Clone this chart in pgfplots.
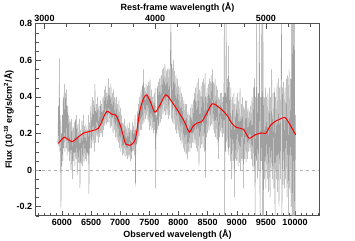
\documentclass[border=0pt]{standalone}
\usepackage{pgfplots}
\pgfplotsset{compat=1.18}
\usepackage{fontspec}
\setmainfont{Liberation Sans}
\definecolor{specgray}{RGB}{160,160,160}
\definecolor{axgray}{RGB}{80,80,80}
\begin{document}
\begin{tikzpicture}
\pgfplotsset{
  common/.style={
    scale only axis, width=283.6pt, height=192pt,
    tick align=inside, major tick length=5pt, minor tick length=3pt,
    every tick/.style={axgray, line width=0.4pt},
    axis line style={axgray, line width=0.6pt},
    /pgf/number format/assume math mode=true,
    scaled x ticks=false,
    tick label style={font=\fontsize{9}{10}\selectfont\bfseries},
    label style={font=\fontsize{9}{10}\selectfont\bfseries},
  }
}
\begin{axis}[common, name=main,
  xmin=5549, xmax=10417, ymin=-0.25, ymax=0.8,
  tick pos=left,
  xtick={6000,6500,...,10000},
  xticklabels={6000,6500,7000,7500,8000,8500,9000,9500,10000},
  minor xtick={5600,5700,...,10400},
  ytick={-0.2,0,0.2,0.4,0.6,0.8},
  yticklabels={-0.2,0,0.2,0.4,0.6,0.8},
  minor ytick={-0.25,-0.15,-0.1,-0.05,0.05,0.1,0.15,0.25,0.3,0.35,0.45,0.5,0.55,0.65,0.7,0.75},
  xlabel={Observed wavelength (Å)},
  ylabel={Flux (10\textsuperscript{-18} erg/s/cm\textsuperscript{2}/Å)},
  xlabel style={yshift=3pt},
  ylabel style={yshift=-4pt},
  clip=true,
]
\addplot[gray!60, dashed, line width=0.4pt] coordinates {(5549,0) (10417,0)};
\addplot[specgray, line width=0.45pt] table[row sep=\\] {
5930 0.14\\ 5940 0.35\\ 5948 0.13\\ 5955 0.61\\ 5962 0.10\\ 5970 0.30\\ 5977 0.05\\ 5983 -0.21\\ 5990 0.20\\ 5998 0.02\\
6006 0.30\\ 6014 0.05\\ 6022 0.40\\ 6030 0.12\\ 6040 0.47\\ 6050 0.10\\ 6060 0.42\\ 6070 0.12\\ 6080 0.44\\ 6090 0.08\\
6100 0.35\\ 6110 0.10\\ 6120 0.30\\ 6131 0.05\\ 6142 0.27\\ 6154 0.00\\ 6166 0.28\\ 6177 -0.05\\ 6189 0.24\\ 6200 0.05\\
6212 0.26\\ 6222 0.02\\ 6232 0.28\\ 6242 0.06\\ 6252 0.30\\ 6262 -0.03\\ 6273 0.25\\ 6285 0.04\\ 6297 0.28\\ 6309 -0.10\\
6320 0.22\\ 6331 0.03\\ 6343 0.27\\ 6355 0.02\\ 6366 0.30\\ 6378 0.04\\ 6390 0.24\\ 6401 0.06\\ 6412 0.25\\ 6423 0.05\\
6433 0.22\\ 6443 0.08\\ 6453 0.30\\ 6463 -0.13\\ 6473 0.26\\ 6483 0.12\\ 6495 0.35\\ 6509 0.12\\ 6520 0.40\\ 6532 0.15\\
6545 0.38\\ 6555 0.10\\ 6566 0.47\\ 6578 0.15\\ 6590 0.36\\ 6602 0.18\\ 6613 0.40\\ 6624 0.15\\ 6636 0.35\\ 6648 0.18\\
6660 0.38\\ 6670 0.20\\ 6681 0.36\\ 6692 0.18\\ 6704 0.40\\ 6716 0.22\\ 6727 0.44\\ 6738 0.24\\ 6750 0.46\\ 6761 0.25\\
6772 0.42\\ 6784 0.26\\ 6795 0.50\\ 6806 0.26\\ 6818 0.45\\ 6829 0.23\\ 6841 0.47\\ 6852 0.24\\ 6864 0.42\\ 6876 0.20\\
6887 0.44\\ 6899 0.22\\ 6910 0.40\\ 6922 0.18\\ 6933 0.40\\ 6945 0.16\\ 6956 0.36\\ 6967 0.15\\ 6978 0.38\\ 6990 0.12\\
7001 0.34\\ 7012 0.10\\ 7024 0.30\\ 7036 0.08\\ 7047 0.26\\ 7059 0.09\\ 7070 0.28\\ 7082 0.07\\ 7094 0.24\\ 7105 0.08\\
7117 0.25\\ 7128 0.06\\ 7139 0.23\\ 7150 0.07\\ 7162 0.26\\ 7173 0.05\\ 7184 0.22\\ 7196 0.06\\ 7208 0.26\\ 7219 0.10\\
7231 0.24\\ 7242 0.08\\ 7254 0.30\\ 7262 -0.09\\ 7270 0.22\\ 7282 0.14\\ 7294 0.32\\ 7303 0.15\\ 7311 0.36\\ 7322 0.18\\
7334 0.40\\ 7345 0.22\\ 7357 0.44\\ 7368 0.22\\ 7380 0.46\\ 7388 0.25\\ 7397 0.55\\ 7408 0.26\\ 7420 0.45\\ 7431 0.28\\
7443 0.47\\ 7454 0.30\\ 7466 0.46\\ 7477 0.26\\ 7489 0.48\\ 7500 0.22\\ 7511 0.50\\ 7522 0.24\\ 7534 0.44\\ 7545 0.22\\
7557 0.40\\ 7568 0.20\\ 7580 0.42\\ 7590 0.22\\ 7600 0.45\\ 7608 -0.10\\ 7617 0.30\\ 7628 0.20\\ 7640 0.46\\ 7648 0.22\\
7654 0.48\\ 7665 0.24\\ 7677 0.50\\ 7688 0.26\\ 7700 0.52\\ 7711 0.28\\ 7722 0.55\\ 7734 0.30\\ 7745 0.56\\ 7757 0.32\\
7768 0.58\\ 7780 0.30\\ 7791 0.54\\ 7803 0.30\\ 7814 0.55\\ 7826 0.28\\ 7837 0.56\\ 7849 0.30\\ 7860 0.60\\ 7871 0.85\\
7876 0.28\\ 7888 0.58\\ 7899 0.26\\ 7911 0.60\\ 7922 0.25\\ 7934 0.54\\ 7945 0.22\\ 7957 0.52\\ 7969 0.20\\ 7980 0.50\\
7992 0.20\\ 8003 0.46\\ 8014 0.18\\ 8026 0.46\\ 8037 0.16\\ 8049 0.42\\ 8060 0.14\\ 8072 0.40\\ 8083 0.12\\ 8094 0.38\\
8106 0.10\\ 8117 0.36\\ 8129 0.08\\ 8140 0.36\\ 8151 0.06\\ 8163 0.32\\ 8174 0.10\\ 8186 0.30\\ 8197 0.10\\ 8208 0.34\\
8220 0.12\\ 8231 0.36\\ 8243 0.15\\ 8254 0.38\\ 8264 0.15\\ 8274 0.42\\ 8284 0.14\\ 8294 0.45\\ 8306 0.12\\ 8318 0.48\\
8330 0.10\\ 8341 0.50\\ 8352 0.02\\ 8364 0.44\\ 8375 0.12\\ 8387 0.46\\ 8398 0.14\\ 8410 0.48\\ 8421 0.12\\ 8433 0.50\\
8444 0.10\\ 8456 0.53\\ 8462 -0.04\\ 8468 0.40\\ 8478 0.18\\ 8490 0.45\\ 8502 0.20\\ 8513 0.47\\ 8524 0.22\\ 8536 0.50\\
8547 0.24\\ 8559 0.52\\ 8570 0.25\\ 8582 0.55\\ 8593 0.22\\ 8605 0.48\\ 8616 0.20\\ 8627 0.50\\ 8638 0.18\\ 8650 0.46\\
8661 0.16\\ 8673 0.44\\ 8684 0.06\\ 8695 0.40\\ 8707 0.18\\ 8718 0.42\\ 8730 0.20\\ 8742 0.42\\ 8753 0.18\\ 8765 0.40\\
8776 0.20\\ 8787 0.85\\ 8792 -0.26\\ 8800 0.42\\ 8808 0.10\\ 8818 0.85\\ 8828 0.15\\ 8840 0.50\\ 8850 0.10\\ 8856 0.68\\
8866 0.08\\ 8878 0.48\\ 8890 0.05\\ 8900 0.45\\ 8913 -0.05\\ 8925 0.40\\ 8937 0.05\\ 8950 0.42\\ 8959 -0.15\\ 8968 0.36\\
8980 0.06\\ 8990 0.40\\ 8999 0.05\\ 9010 0.42\\ 9022 0.02\\ 9033 0.38\\ 9045 0.04\\ 9056 0.45\\ 9067 0.00\\ 9079 0.36\\
9090 0.05\\ 9102 0.40\\ 9113 -0.10\\ 9124 0.35\\ 9136 0.06\\ 9147 0.38\\ 9159 0.04\\ 9170 0.38\\ 9181 0.06\\ 9193 0.34\\
9204 0.10\\ 9216 0.32\\ 9228 0.10\\ 9239 0.35\\ 9251 0.06\\ 9262 0.40\\ 9273 0.02\\ 9285 0.45\\ 9296 0.00\\ 9305 0.50\\
9315 -0.26\\ 9325 0.40\\ 9335 0.05\\ 9342 0.85\\ 9352 -0.05\\ 9365 0.42\\ 9375 0.00\\ 9388 0.85\\ 9400 -0.26\\ 9410 0.40\\
9420 0.05\\ 9430 0.85\\ 9440 -0.26\\ 9450 0.85\\ 9457 -0.26\\ 9468 0.40\\ 9478 -0.05\\ 9490 0.45\\ 9500 -0.10\\ 9514 0.40\\
9525 -0.05\\ 9536 0.42\\ 9548 -0.12\\ 9560 0.45\\ 9571 -0.15\\ 9582 0.40\\ 9592 0.00\\ 9600 0.55\\ 9612 -0.05\\ 9625 0.42\\
9637 -0.10\\ 9648 0.45\\ 9657 -0.26\\ 9668 0.40\\ 9680 -0.05\\ 9691 0.48\\ 9703 -0.12\\ 9714 0.50\\ 9725 -0.20\\ 9737 0.45\\
9748 -0.05\\ 9760 0.50\\ 9771 0.85\\ 9776 -0.26\\ 9785 0.45\\ 9795 -0.08\\ 9806 0.48\\ 9818 -0.10\\ 9829 0.45\\ 9840 -0.05\\
9852 0.50\\ 9863 -0.15\\ 9875 0.52\\ 9886 -0.25\\ 9897 0.55\\ 9908 -0.10\\ 9920 0.50\\ 9932 -0.20\\ 9943 0.85\\ 9950 -0.26\\
9958 0.85\\ 9966 -0.26\\ 9975 0.85\\ 9985 -0.26\\ 9992 0.85\\ 10000 -0.26\\ 10008 0.30\\
};
\addplot[red, line width=1pt, smooth, tension=0.5] coordinates {
(5937,0.146) (5990,0.165) (6040,0.179) (6100,0.168) (6177,0.155) (6260,0.175)
(6366,0.201) (6510,0.214) (6624,0.228) (6682,0.265) (6768,0.320) (6854,0.305)
(6922,0.300) (6970,0.270) (7025,0.220) (7082,0.150) (7120,0.138) (7168,0.135)
(7230,0.150) (7270,0.185) (7340,0.329) (7400,0.390) (7455,0.411) (7528,0.365)
(7597,0.316) (7683,0.356) (7781,0.411) (7884,0.374) (7997,0.320) (8100,0.265)
(8186,0.207) (8244,0.237) (8313,0.256) (8399,0.265) (8485,0.310) (8581,0.362)
(8713,0.338) (8828,0.301) (8914,0.256) (9000,0.232) (9113,0.223) (9211,0.174)
(9314,0.192) (9429,0.203) (9503,0.201) (9571,0.241) (9657,0.265) (9743,0.278)
(9829,0.287) (9915,0.247) (10012,0.192)
};
\end{axis}
\begin{axis}[common,
  xmin=2920.5, xmax=5482.6, ymin=-0.25, ymax=0.8,
  axis x line*=top, hide y axis,
  xtick={3000,4000,5000},
  xticklabels={3000,4000,5000},
  minor xtick={3000,3200,...,5400},
  xlabel={Rest-frame wavelength (Å)},
  xlabel style={yshift=-4pt},
  xticklabel style={yshift=-1pt},
]
\end{axis}
\pgfresetboundingbox
\path ([xshift=-35.7pt,yshift=-24.3pt]main.south west) rectangle ([xshift=35.7pt,yshift=23.7pt]main.north east);
\end{tikzpicture}
\end{document}
